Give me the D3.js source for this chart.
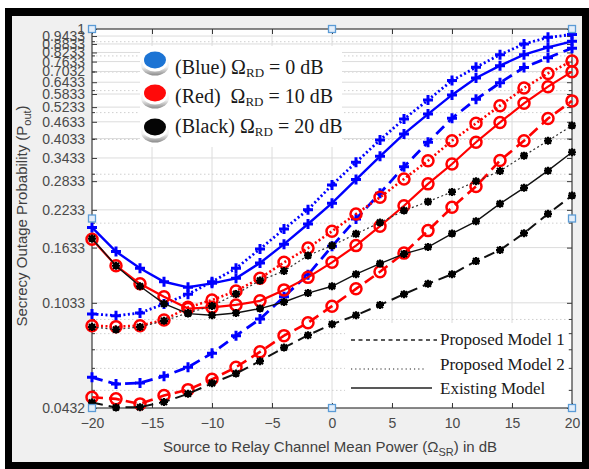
<!DOCTYPE html>
<html>
<head>
<meta charset="utf-8">
<script src="https://cdn.jsdelivr.net/npm/d3@7"></script>
<style>
  html, body { margin: 0; padding: 0; background: #fff; }
  svg { display: block; }
</style>
</head>
<body>
<script>
// Source-to-relay mean power (dB)
const omegaSR = [-20, -18, -16, -14, -12, -10, -8, -6, -4, -2, 0, 2, 4, 6, 8, 10, 12, 14, 16, 18, 20];

// Secrecy outage probability, Omega_RD = 0 dB (blue)
const blueExisting = [0.193, 0.158, 0.1375, 0.123, 0.1175, 0.1214, 0.1266, 0.1438, 0.168, 0.1986, 0.236, 0.287, 0.348, 0.419, 0.494, 0.579, 0.666, 0.738, 0.808, 0.859, 0.903];
const blueModel2   = [0.0942, 0.0929, 0.095, 0.1023, 0.111, 0.123, 0.1375, 0.1614, 0.1905, 0.2236, 0.2744, 0.331, 0.3986, 0.474, 0.555, 0.652, 0.728, 0.808, 0.883, 0.933, 0.955];
const blueModel1   = [0.0557, 0.0527, 0.0532, 0.0562, 0.0606, 0.068, 0.0787, 0.0903, 0.1087, 0.1305, 0.165, 0.207, 0.256, 0.3193, 0.391, 0.477, 0.558, 0.640, 0.727, 0.788, 0.853];

// Omega_RD = 10 dB (red)
const redExisting = [0.175, 0.1406, 0.121, 0.1087, 0.0985, 0.0995, 0.1015, 0.105, 0.115, 0.1276, 0.1445, 0.166, 0.195, 0.231, 0.277, 0.3266, 0.391, 0.461, 0.54, 0.62, 0.702];
const redModel2   = [0.0855, 0.0848, 0.0855, 0.0896, 0.0995, 0.1057, 0.114, 0.1266, 0.1445, 0.1627, 0.187, 0.2158, 0.2477, 0.2884, 0.3357, 0.396, 0.4575, 0.5297, 0.613, 0.692, 0.767];
const redModel1   = [0.0472, 0.0466, 0.0447, 0.0479, 0.0503, 0.0548, 0.0606, 0.0688, 0.0787, 0.0876, 0.1005, 0.116, 0.1336, 0.156, 0.188, 0.228, 0.271, 0.336, 0.396, 0.476, 0.551];

// Omega_RD = 20 dB (black)
const blackExisting = [0.176, 0.1405, 0.1185, 0.1026, 0.0945, 0.0932, 0.095, 0.0985, 0.104, 0.112, 0.1185, 0.131, 0.143, 0.155, 0.164, 0.1835, 0.203, 0.235, 0.268, 0.309, 0.36];
const blackModel2   = [0.0846, 0.0828, 0.0846, 0.089, 0.095, 0.1006, 0.1112, 0.1243, 0.1345, 0.153, 0.166, 0.183, 0.201, 0.222, 0.239, 0.259, 0.283, 0.308, 0.35, 0.396, 0.449];
const blackModel1   = [0.0452, 0.0434, 0.0435, 0.0454, 0.0486, 0.053, 0.0575, 0.0637, 0.0713, 0.079, 0.0865, 0.0932, 0.1015, 0.111, 0.121, 0.131, 0.146, 0.160, 0.184, 0.216, 0.2514];

// Axis ticks
const xTicks = [-20, -15, -10, -5, 0, 5, 10, 15, 20];
const yTicks = [0.0432, 0.1033, 0.1633, 0.2233, 0.2833, 0.3433, 0.4033, 0.4633, 0.5233, 0.5833, 0.6433, 0.7032, 0.7633, 0.8233, 0.8833, 0.9433, 1];
const yTickLabels = ["0.0432", "0.1033", "0.1633", "0.2233", "0.2833", "0.3433", "0.4033", "0.4633", "0.5233", "0.5833", "0.6433", "0.7032", "0.7633", "0.8233", "0.8833", "0.9433", "1"];
const yMinorTicks = [0.05, 0.06, 0.07, 0.08, 0.09, 0.2, 0.3, 0.4, 0.5, 0.6, 0.7, 0.8, 0.9];

// Legend text
const colourLegend = [
  { label: "(Blue) ", value: " = 0 dB", color: "#1c74d4" },
  { label: "(Red)  ", value: " = 10 dB", color: "#ff0a0a" },
  { label: "(Black) ", value: " = 20 dB", color: "#050505" }
];
const styleLegend = ["Proposed Model 1", "Proposed Model 2", "Existing Model"];

const W = 589, H = 469;
const plot = { left: 92, right: 572, top: 29, bottom: 408 };

const svg = d3.select("body").append("svg")
  .attr("width", W).attr("height", H)
  .style("font-family", "'Liberation Sans', Arial, sans-serif");

// Page, black frame, figure background
svg.append("rect").attr("width", W).attr("height", H).attr("fill", "#fff");
svg.append("rect").attr("x", 5).attr("y", 8).attr("width", W - 5).attr("height", H - 8).attr("fill", "#000");
svg.append("rect").attr("x", 12).attr("y", 16).attr("width", 570).attr("height", 446).attr("fill", "#f0f0f0");

const x = d3.scaleLinear().domain([-20, 20]).range([plot.left, plot.right]);
const y = d3.scaleLog().domain([0.0432, 1]).range([plot.bottom, plot.top]);

// Plot area
svg.append("rect")
  .attr("x", plot.left).attr("y", plot.top)
  .attr("width", plot.right - plot.left).attr("height", plot.bottom - plot.top)
  .attr("fill", "#fff");

// Grid
const grid = svg.append("g");
grid.selectAll(".gx").data(xTicks.slice(1, -1)).join("line")
  .attr("x1", d => x(d)).attr("x2", d => x(d))
  .attr("y1", plot.top).attr("y2", plot.bottom)
  .attr("stroke", "#dcdcdc").attr("stroke-width", 1);
grid.selectAll(".gym").data(yMinorTicks).join("line")
  .attr("x1", plot.left).attr("x2", plot.right)
  .attr("y1", d => y(d)).attr("y2", d => y(d))
  .attr("stroke", "#cfcfcf").attr("stroke-width", 1).attr("stroke-dasharray", "1.5,2.5");
grid.selectAll(".gy").data(yTicks.slice(1, -1)).join("line")
  .attr("x1", plot.left).attr("x2", plot.right)
  .attr("y1", d => y(d)).attr("y2", d => y(d))
  .attr("stroke", "#dcdcdc").attr("stroke-width", 1);

// Legend backgrounds (drawn over the grid)
svg.append("rect").attr("x", 140).attr("y", 46).attr("width", 202).attr("height", 101).attr("fill", "#fff");
svg.append("rect").attr("x", 345).attr("y", 323).attr("width", 222).attr("height", 82).attr("fill", "#fff");

// Axes
const axisColor = "#3a3a3a";
const tickFont = 14;
function styleAxis(g) {
  g.select(".domain").remove();
  g.selectAll(".tick line").attr("stroke", axisColor);
  g.selectAll(".tick text").attr("fill", "#4a4a4a").style("font-size", tickFont + "px")
    .style("font-family", "'Liberation Sans', Arial, sans-serif");
}
svg.append("g").attr("transform", `translate(0,${plot.bottom})`)
  .call(d3.axisBottom(x).tickValues(xTicks).tickSizeInner(-5).tickSizeOuter(0).tickPadding(10))
  .call(styleAxis);
svg.append("g").attr("transform", `translate(0,${plot.top})`)
  .call(d3.axisTop(x).tickValues(xTicks).tickSizeInner(-5).tickSizeOuter(0).tickFormat(""))
  .call(styleAxis);
svg.append("g").attr("transform", `translate(${plot.left},0)`)
  .call(d3.axisLeft(y).tickValues(yTicks).tickFormat((d, i) => yTickLabels[i]).tickSizeInner(-5).tickSizeOuter(0).tickPadding(7))
  .call(styleAxis);
svg.append("g").attr("transform", `translate(${plot.right},0)`)
  .call(d3.axisRight(y).tickValues(yTicks).tickSizeInner(-5).tickSizeOuter(0).tickFormat(""))
  .call(styleAxis);
// minor ticks on the log axis
[plot.left, plot.right].forEach((px, k) => {
  svg.append("g").selectAll("line").data(yMinorTicks).join("line")
    .attr("x1", px).attr("x2", px + (k === 0 ? 3 : -3))
    .attr("y1", d => y(d)).attr("y2", d => y(d))
    .attr("stroke", axisColor);
});
svg.append("rect")
  .attr("x", plot.left).attr("y", plot.top)
  .attr("width", plot.right - plot.left).attr("height", plot.bottom - plot.top)
  .attr("fill", "none").attr("stroke", axisColor).attr("stroke-width", 1.2);

// Series
const styles = {
  model1:   { dash: "11,6" },
  model2:   { dash: "2,2.5" },
  existing: { dash: null }
};
const series = [
  { values: blueModel1,    color: "#0000ff", kind: "model1",   marker: "plus",   width: 2.8 },
  { values: blueModel2,    color: "#0000ff", kind: "model2",   marker: "plus",   width: 2.8 },
  { values: blueExisting,  color: "#0000ff", kind: "existing", marker: "plus",   width: 2.4 },
  { values: redModel1,     color: "#ff0000", kind: "model1",   marker: "circle", width: 2.6 },
  { values: redModel2,     color: "#ff0000", kind: "model2",   marker: "circle", width: 2.6 },
  { values: redExisting,   color: "#ff0000", kind: "existing", marker: "circle", width: 2.2 },
  { values: blackModel1,   color: "#111111", kind: "model1",   marker: "star",   width: 2.0 },
  { values: blackModel2,   color: "#333333", kind: "model2",   marker: "star",   width: 1.2 },
  { values: blackExisting, color: "#111111", kind: "existing", marker: "star",   width: 1.4 }
];

const line = d3.line().x(d => x(d[0])).y(d => y(d[1]));
const plotLayer = svg.append("g");

series.forEach(s => {
  const pts = omegaSR.map((v, i) => [v, s.values[i]]);
  const g = plotLayer.append("g");
  g.append("path")
    .attr("d", line(pts))
    .attr("fill", "none")
    .attr("stroke", s.color)
    .attr("stroke-width", s.width)
    .attr("stroke-dasharray", styles[s.kind].dash);
  const m = g.selectAll("g.m").data(pts).join("g")
    .attr("transform", d => `translate(${x(d[0])},${y(d[1])})`);
  if (s.marker === "plus") {
    m.append("path").attr("d", "M-5,0H5M0,-5V5")
      .attr("stroke", s.color).attr("stroke-width", 3).attr("fill", "none");
  } else if (s.marker === "circle") {
    m.append("circle").attr("r", 5.5)
      .attr("fill", "none").attr("stroke", s.color).attr("stroke-width", 2.5);
  } else {
    m.append("circle").attr("r", 2.6).attr("fill", "#000");
    m.append("path").attr("d", "M-4,0H4M0,-4V4M-3,-3L3,3M-3,3L3,-3")
      .attr("stroke", "#000").attr("stroke-width", 2.2).attr("fill", "none");
  }
});

// Colour legend with button-like swatches
const defs = svg.append("defs");
const baseGrad = defs.append("linearGradient").attr("id", "btnBase").attr("x1", 0).attr("y1", 0).attr("x2", 0).attr("y2", 1);
baseGrad.append("stop").attr("offset", "0%").attr("stop-color", "#ffffff");
baseGrad.append("stop").attr("offset", "60%").attr("stop-color", "#f2f2f2");
baseGrad.append("stop").attr("offset", "100%").attr("stop-color", "#8a8a8a");

const legRows = [60, 93, 127];
const legBase = [74, 103, 133];
colourLegend.forEach((d, i) => {
  const cy = legRows[i];
  svg.append("ellipse").attr("cx", 155).attr("cy", cy + 5).attr("rx", 14).attr("ry", 10.5)
    .attr("fill", "url(#btnBase)");
  svg.append("ellipse").attr("cx", 155).attr("cy", cy + 2).attr("rx", 12.5).attr("ry", 9.5)
    .attr("fill", "#fff");
  svg.append("ellipse").attr("cx", 155).attr("cy", cy).attr("rx", 11).attr("ry", 8.5)
    .attr("fill", d.color);
  const t = svg.append("text").attr("x", 175).attr("y", legBase[i])
    .style("font-family", "'Liberation Serif', 'Times New Roman', serif")
    .style("font-size", "20px").attr("fill", "#1a1a1a")
    .attr("xml:space", "preserve");
  t.append("tspan").text(d.label + "\u03A9");
  t.append("tspan").attr("dy", 3).style("font-size", "13px").text("RD");
  t.append("tspan").attr("dy", -3).text(d.value);
});

// Line-style legend
const styleRows = [
  { y: 340, base: 345, dash: "4,3.5", x2: 437, w: 1.4 },
  { y: 369, base: 370, dash: "1.2,3", x2: 426, w: 1.2 },
  { y: 388, base: 394, dash: null, x2: 432, w: 1.6 }
];
styleLegend.forEach((label, i) => {
  const r = styleRows[i];
  svg.append("line").attr("x1", 351).attr("x2", r.x2).attr("y1", r.y).attr("y2", r.y)
    .attr("stroke", "#222").attr("stroke-width", r.w).attr("stroke-dasharray", r.dash);
  svg.append("text").attr("x", 440).attr("y", r.base)
    .style("font-family", "'Liberation Serif', 'Times New Roman', serif")
    .style("font-size", "17px").attr("fill", "#1a1a1a")
    .text(label);
});

// Axis titles
const xTitle = svg.append("text").attr("x", 330).attr("y", 452).attr("text-anchor", "middle")
  .attr("fill", "#404040").style("font-size", "15px");
xTitle.append("tspan").text("Source to Relay Channel Mean Power (\u03A9");
xTitle.append("tspan").attr("dy", 4).style("font-size", "11px").text("SR");
xTitle.append("tspan").attr("dy", -4).text(") in dB");

const yTitle = svg.append("text").attr("transform", "translate(27,216) rotate(-90)")
  .attr("text-anchor", "middle").attr("fill", "#404040").style("font-size", "15px");
yTitle.append("tspan").text("Secrecy Outage Probability (P");
yTitle.append("tspan").attr("dy", 4).style("font-size", "11px").text("out");
yTitle.append("tspan").attr("dy", -4).text(")");

// Selection handles around the axes box
const midX = (plot.left + plot.right) / 2, midY = (plot.top + plot.bottom) / 2;
const handles = [
  [plot.left, plot.top], [midX, plot.top], [plot.right, plot.top],
  [plot.left, midY], [plot.right, midY],
  [plot.left, plot.bottom], [midX, plot.bottom], [plot.right, plot.bottom]
];
svg.append("g").selectAll("rect").data(handles).join("rect")
  .attr("x", d => d[0] - 3.5).attr("y", d => d[1] - 3.5)
  .attr("width", 7).attr("height", 7)
  .attr("fill", "#e3eefa").attr("stroke", "#5b9bd5").attr("stroke-width", 1.3);
</script>
</body>
</html>
